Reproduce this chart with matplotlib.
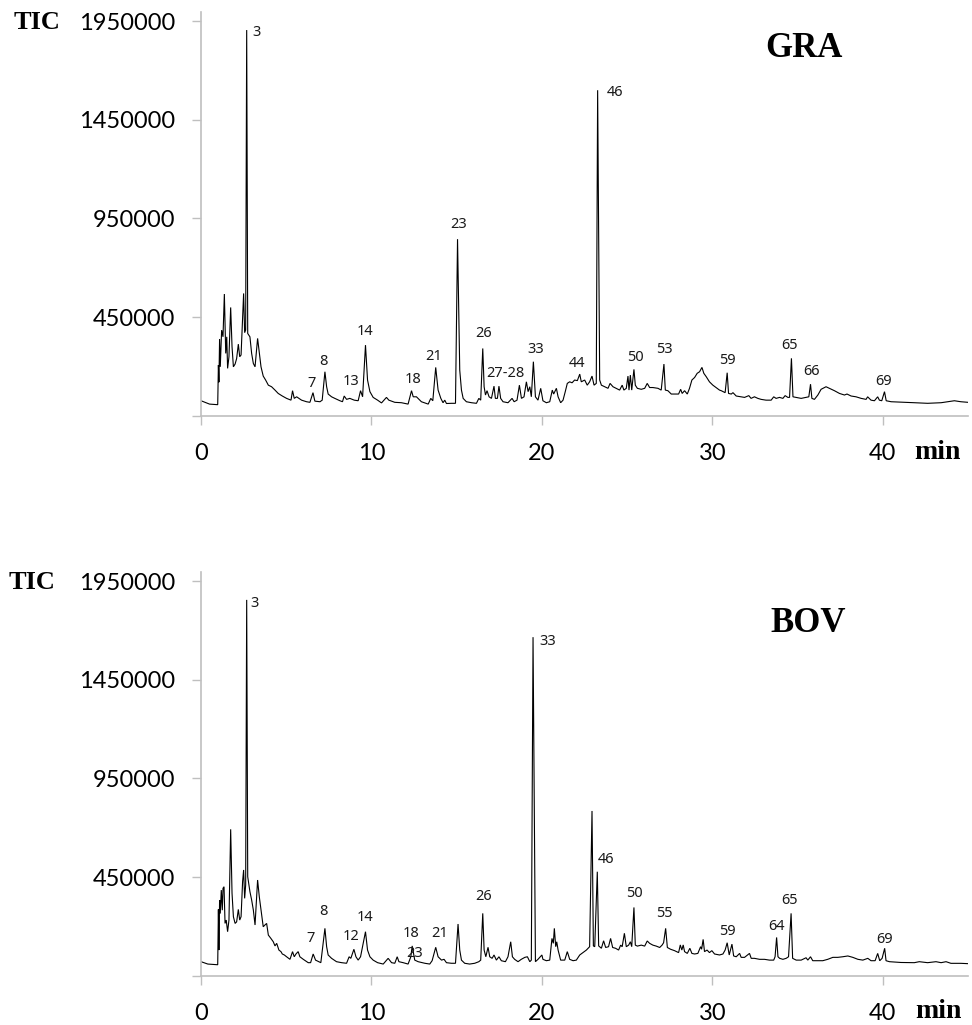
"""
plot.py
=======
Two stacked GC-MS total ion chromatograms (GRA on top, BOV below),
with numbered peak labels.

Output: out.png (972 x 1025 px)
"""

import matplotlib

matplotlib.use("Agg")
import matplotlib.pyplot as plt

# ── GRA trace: retention time (min) / TIC ────────────────────────────────────
GRA_TIME = [
    0.0, 0.5, 0.98, 1.02, 1.05, 1.09, 1.13, 1.21, 1.29, 1.37, 1.45, 1.51, 1.56,
    1.64, 1.74, 1.82, 1.90, 2.00, 2.09, 2.19, 2.27, 2.35, 2.44, 2.50, 2.56,
    2.62, 2.68, 2.74, 2.87, 2.97, 3.07, 3.17, 3.32, 3.40, 3.52, 3.65, 3.79,
    3.95, 4.14, 4.34, 4.53, 4.77, 5.02, 5.28, 5.37, 5.47, 5.61, 5.90, 6.19,
    6.39, 6.57, 6.68, 6.98, 7.11, 7.27, 7.37, 7.46, 7.66, 7.85, 8.15, 8.30,
    8.40, 8.54, 8.73, 8.99, 9.22, 9.36, 9.48, 9.65, 9.77, 9.91, 10.10, 10.36,
    10.59, 10.88, 11.02, 11.37, 11.76, 12.15, 12.35, 12.45, 12.64, 12.93,
    13.33, 13.48, 13.60, 13.77, 13.91, 14.07, 14.20, 14.30, 14.40, 14.70,
    14.93, 15.05, 15.18, 15.28, 15.38, 15.57, 15.87, 16.16, 16.30, 16.41,
    16.53, 16.61, 16.69, 16.78, 16.90, 17.04, 17.19, 17.27, 17.39, 17.48,
    17.58, 17.72, 18.01, 18.25, 18.37, 18.54, 18.68, 18.80, 18.95, 19.09,
    19.19, 19.29, 19.38, 19.50, 19.62, 19.77, 19.93, 20.06, 20.26, 20.46,
    20.61, 20.69, 20.85, 20.95, 21.10, 21.24, 21.37, 21.49, 21.63, 21.77,
    21.92, 22.08, 22.22, 22.31, 22.51, 22.66, 22.80, 22.94, 23.06, 23.19,
    23.27, 23.39, 23.49, 23.69, 23.88, 24.00, 24.17, 24.36, 24.56, 24.71,
    24.81, 24.95, 25.05, 25.11, 25.19, 25.27, 25.40, 25.48, 25.60, 25.83,
    26.03, 26.18, 26.32, 26.51, 26.81, 27.00, 27.16, 27.24, 27.39, 27.59,
    27.78, 28.02, 28.14, 28.23, 28.37, 28.53, 28.66, 28.80, 28.96, 29.11,
    29.25, 29.39, 29.50, 29.64, 29.83, 30.03, 30.22, 30.42, 30.52, 30.75,
    30.87, 30.95, 31.11, 31.21, 31.40, 31.69, 31.89, 32.14, 32.27, 32.47,
    32.67, 32.86, 33.15, 33.45, 33.60, 33.74, 33.94, 34.14, 34.27, 34.43,
    34.53, 34.64, 34.73, 34.92, 35.21, 35.50, 35.66, 35.76, 35.84, 35.99,
    36.19, 36.38, 36.67, 36.87, 37.16, 37.46, 37.75, 37.90, 38.14, 38.43,
    38.73, 39.02, 39.11, 39.31, 39.51, 39.70, 39.80, 39.94, 40.10, 40.20,
    40.49, 41.07, 41.85, 42.63, 43.42, 43.80, 44.20, 44.58, 45.00,
]
GRA_TIC = [
    26000, 9000, 6000, 207000, 120000, 339000, 198000, 384000, 350000, 567000,
    266000, 350000, 190000, 249000, 499000, 300000, 198000, 212000, 240000,
    313000, 249000, 258000, 452000, 570000, 371000, 385000, 1905000, 367000,
    350000, 266000, 215000, 198000, 342000, 283000, 198000, 151000, 131000,
    105000, 97000, 80000, 63000, 50000, 38000, 29000, 77000, 38000, 46000,
    29000, 21000, 18000, 67000, 24000, 21000, 29000, 173000, 97000, 60000,
    46000, 38000, 26000, 21000, 50000, 33000, 38000, 29000, 26000, 77000,
    46000, 308000, 131000, 72000, 43000, 29000, 15000, 43000, 29000, 18000,
    16000, 9000, 77000, 46000, 46000, 21000, 9000, 38000, 26000, 195000,
    80000, 38000, 16000, 29000, 12000, 13000, 13000, 845000, 181000, 80000,
    38000, 21000, 16000, 13000, 38000, 29000, 291000, 97000, 55000, 77000,
    46000, 38000, 100000, 38000, 38000, 100000, 38000, 21000, 16000, 38000,
    21000, 29000, 105000, 38000, 46000, 122000, 72000, 97000, 46000, 224000,
    46000, 29000, 89000, 26000, 16000, 21000, 80000, 60000, 89000, 46000,
    16000, 29000, 72000, 114000, 122000, 117000, 131000, 128000, 161000,
    122000, 131000, 105000, 122000, 151000, 105000, 114000, 1600000, 131000,
    105000, 97000, 89000, 114000, 97000, 89000, 80000, 105000, 80000, 89000,
    151000, 80000, 156000, 80000, 185000, 105000, 89000, 84000, 89000,
    114000, 93000, 93000, 89000, 80000, 212000, 80000, 77000, 60000, 60000,
    60000, 84000, 63000, 77000, 60000, 89000, 131000, 144000, 165000, 173000,
    195000, 165000, 148000, 122000, 105000, 93000, 80000, 77000, 67000,
    168000, 63000, 60000, 67000, 50000, 46000, 43000, 52000, 38000, 46000,
    38000, 33000, 29000, 29000, 46000, 38000, 43000, 38000, 52000, 43000,
    43000, 241000, 46000, 43000, 38000, 43000, 46000, 110000, 38000, 33000,
    55000, 84000, 97000, 89000, 77000, 63000, 55000, 60000, 50000, 46000,
    38000, 33000, 46000, 29000, 26000, 46000, 29000, 26000, 72000, 26000,
    21000, 19000, 16000, 13000, 16000, 21000, 26000, 21000, 18000,
]

# ── BOV trace: retention time (min) / TIC ────────────────────────────────────
BOV_TIME = [
    0.0, 0.4, 0.98, 1.02, 1.05, 1.09, 1.13, 1.19, 1.25, 1.29, 1.35, 1.41, 1.48,
    1.56, 1.64, 1.74, 1.78, 1.82, 1.90, 2.00, 2.09, 2.19, 2.27, 2.35, 2.44,
    2.50, 2.56, 2.62, 2.68, 2.74, 2.87, 2.97, 3.07, 3.17, 3.32, 3.42, 3.52,
    3.65, 3.75, 3.85, 3.95, 4.10, 4.24, 4.34, 4.44, 4.57, 4.69, 4.77, 4.89,
    5.02, 5.22, 5.37, 5.47, 5.57, 5.70, 5.80, 6.00, 6.29, 6.43, 6.58, 6.72,
    7.03, 7.27, 7.37, 7.46, 7.66, 7.95, 8.25, 8.54, 8.69, 8.79, 8.97, 9.09,
    9.22, 9.36, 9.65, 9.77, 9.91, 10.10, 10.36, 10.69, 10.98, 11.18, 11.37,
    11.51, 11.61, 11.86, 12.15, 12.31, 12.39, 12.54, 12.74, 13.13, 13.42,
    13.56, 13.77, 13.91, 14.11, 14.26, 14.40, 14.69, 14.93, 15.08, 15.18,
    15.28, 15.47, 15.76, 16.06, 16.30, 16.41, 16.53, 16.61, 16.71, 16.84,
    16.94, 17.08, 17.19, 17.33, 17.48, 17.62, 17.86, 18.01, 18.17, 18.27,
    18.40, 18.60, 18.79, 19.00, 19.15, 19.29, 19.38, 19.48, 19.62, 19.77,
    20.00, 20.06, 20.26, 20.46, 20.59, 20.67, 20.73, 20.81, 20.87, 20.95,
    21.10, 21.34, 21.49, 21.63, 21.83, 22.02, 22.22, 22.41, 22.61, 22.80,
    22.94, 23.02, 23.10, 23.25, 23.33, 23.49, 23.62, 23.74, 23.91, 24.03,
    24.15, 24.32, 24.50, 24.62, 24.71, 24.84, 24.95, 25.09, 25.19, 25.27,
    25.40, 25.48, 25.60, 25.83, 26.03, 26.18, 26.32, 26.51, 26.71, 26.91,
    27.05, 27.14, 27.26, 27.36, 27.55, 27.78, 28.02, 28.12, 28.21, 28.29,
    28.37, 28.53, 28.68, 28.80, 28.96, 29.15, 29.31, 29.37, 29.46, 29.54,
    29.69, 29.83, 29.97, 30.13, 30.42, 30.62, 30.75, 30.87, 30.99, 31.15,
    31.25, 31.40, 31.60, 31.69, 31.89, 32.18, 32.28, 32.47, 32.77, 33.06,
    33.35, 33.60, 33.68, 33.77, 33.85, 33.95, 34.14, 34.33, 34.47, 34.62,
    34.71, 34.92, 35.21, 35.50, 35.60, 35.76, 35.89, 36.19, 36.48, 36.77,
    37.07, 37.36, 37.65, 37.95, 38.24, 38.54, 38.83, 39.12, 39.31, 39.55,
    39.70, 39.82, 39.96, 40.11, 40.19, 40.39, 41.07, 41.85, 42.14, 42.63,
    43.12, 43.42, 43.71, 44.00, 44.58, 45.00,
]
BOV_TIC = [
    21000, 9000, 5500, 286000, 80000, 333000, 265000, 384000, 282000, 393000,
    401000, 215000, 232000, 173000, 232000, 692000, 520000, 368000, 249000,
    215000, 223000, 286000, 232000, 249000, 427000, 486000, 342000, 410000,
    1855000, 452000, 376000, 334000, 283000, 207000, 435000, 350000, 283000,
    198000, 207000, 215000, 156000, 139000, 122000, 101000, 114000, 80000,
    72000, 60000, 55000, 46000, 33000, 72000, 46000, 60000, 72000, 46000,
    33000, 16000, 16000, 60000, 29000, 16000, 190000, 97000, 55000, 38000,
    21000, 16000, 13000, 46000, 38000, 84000, 46000, 29000, 46000, 173000,
    80000, 46000, 29000, 16000, 9000, 38000, 16000, 13000, 46000, 21000,
    16000, 9000, 46000, 101000, 29000, 21000, 13000, 9000, 26000, 94000,
    46000, 29000, 33000, 16000, 13000, 13000, 212000, 80000, 29000, 13000,
    9000, 13000, 21000, 29000, 266000, 80000, 46000, 94000, 46000, 38000,
    55000, 29000, 46000, 26000, 21000, 46000, 122000, 46000, 33000, 21000,
    33000, 43000, 46000, 21000, 29000, 1666000, 21000, 33000, 55000, 33000,
    26000, 29000, 139000, 114000, 190000, 97000, 122000, 80000, 29000, 29000,
    72000, 33000, 26000, 29000, 55000, 67000, 80000, 97000, 785000, 101000,
    97000, 477000, 101000, 89000, 127000, 93000, 97000, 139000, 93000, 89000,
    80000, 105000, 97000, 165000, 97000, 105000, 122000, 97000, 296000,
    105000, 100000, 105000, 100000, 126000, 114000, 105000, 100000, 93000,
    105000, 117000, 190000, 93000, 84000, 77000, 67000, 106000, 80000,
    106000, 72000, 63000, 89000, 63000, 60000, 63000, 97000, 84000, 134000,
    72000, 80000, 67000, 77000, 60000, 55000, 60000, 80000, 117000, 55000,
    110000, 50000, 46000, 63000, 43000, 43000, 63000, 38000, 38000, 33000,
    33000, 29000, 29000, 46000, 144000, 46000, 38000, 33000, 38000, 46000,
    266000, 38000, 29000, 29000, 41000, 29000, 46000, 26000, 26000, 26000,
    33000, 43000, 43000, 46000, 50000, 43000, 33000, 29000, 38000, 26000,
    26000, 63000, 26000, 38000, 89000, 26000, 21000, 17000, 16000, 21000,
    16000, 21000, 16000, 21000, 12700, 12700, 11000,
]

# ── Peak numbers and where they sit (min, TIC) ───────────────────────────────
GRA_PEAKS = ["3", "7", "8", "13", "14", "18", "21", "23", "26", "27-28", "33",
             "44", "46", "50", "53", "59", "65", "66", "69"]
GRA_PEAK_TIME = [3.26, 6.49, 7.17, 8.83, 9.61, 12.41, 13.62, 15.14, 16.55,
                 17.86, 19.62, 22.06, 24.31, 25.50, 27.20, 30.87, 34.53,
                 35.82, 40.06]
GRA_PEAK_TIC = [1892000, 114000, 224000, 126000, 379000, 136000, 252000,
                917000, 367000, 165000, 288000, 215000, 1588000, 244000,
                288000, 229000, 308000, 173000, 126000]

BOV_PEAKS = ["3", "7", "8", "12", "14", "18", "23", "21", "26", "33", "46",
             "50", "55", "59", "64", "65", "69"]
BOV_PEAK_TIME = [3.17, 6.45, 7.17, 8.83, 9.61, 12.35, 12.54, 14.01, 16.59,
                 20.36, 23.78, 25.44, 27.20, 30.86, 33.75, 34.53, 40.09]
BOV_PEAK_TIC = [1835000, 139000, 275000, 148000, 246000, 165000, 60000,
                165000, 350000, 1644000, 537000, 368000, 266000, 173000,
                198000, 330000, 136000]

X_TICKS = [0, 10, 20, 30, 40]
Y_TICKS = [-50000, 450000, 950000, 1450000, 1950000]
Y_TICK_LABELS = ["", "450000", "950000", "1450000", "1950000"]

AXIS_GREY = "#BFBFBF"
TICK_FONT = "Lato"
PEAK_FONT = "Noto Sans"
SERIF = "Liberation Serif"


def _draw_panel(ax, times, tic, peaks, peak_t, peak_v):
    """One chromatogram with Excel-like grey axes and peak numbers."""
    ax.plot(times, tic, color="black", linewidth=0.8, solid_joinstyle="miter")

    for label, t, v in zip(peaks, peak_t, peak_v):
        ax.text(t, v, label, ha="center", va="center", fontsize=10.5,
                family=PEAK_FONT, color="#1a1a1a")

    ax.set_xlim(0, 45)
    ax.set_ylim(-50000, 1995000)
    ax.set_xticks(X_TICKS)
    ax.set_yticks(Y_TICKS)
    ax.set_yticklabels(Y_TICK_LABELS)

    for side in ("top", "right"):
        ax.spines[side].set_visible(False)
    for side in ("left", "bottom"):
        ax.spines[side].set_color(AXIS_GREY)
        ax.spines[side].set_linewidth(1.2)

    ax.tick_params(axis="both", direction="out", length=6.5, width=1.0,
                   color=AXIS_GREY, labelsize=17, labelcolor="black")
    ax.tick_params(axis="y", pad=12)
    ax.tick_params(axis="x", pad=13)
    for lbl in ax.get_xticklabels() + ax.get_yticklabels():
        lbl.set_family(TICK_FONT)
    ax.patch.set_alpha(0)


def main():
    fig = plt.figure(figsize=(9.72, 10.25), dpi=100)

    ax_top = fig.add_axes([0.2068, 0.5944, 0.7891, 0.3936])
    ax_bot = fig.add_axes([0.2068, 0.0481, 0.7891, 0.3936])

    _draw_panel(ax_top, GRA_TIME, GRA_TIC, GRA_PEAKS, GRA_PEAK_TIME, GRA_PEAK_TIC)
    _draw_panel(ax_bot, BOV_TIME, BOV_TIC, BOV_PEAKS, BOV_PEAK_TIME, BOV_PEAK_TIC)

    # Panel titles and axis words (bold serif, as in the figure)
    bold = dict(family=SERIF, fontweight="bold", ha="center", va="center")
    fig.text(0.038, 0.9785, "TIC", fontsize=19, **bold)
    fig.text(0.033, 0.432, "TIC", fontsize=19, **bold)
    fig.text(0.827, 0.953, "GRA", fontsize=25, **bold)
    fig.text(0.831, 0.392, "BOV", fontsize=25, **bold)
    fig.text(0.964, 0.559, "min", fontsize=20, **bold)
    fig.text(0.965, 0.0127, "min", fontsize=20, **bold)

    fig.savefig("out.png", dpi=100, facecolor="white")
    plt.close(fig)


if __name__ == "__main__":
    main()
